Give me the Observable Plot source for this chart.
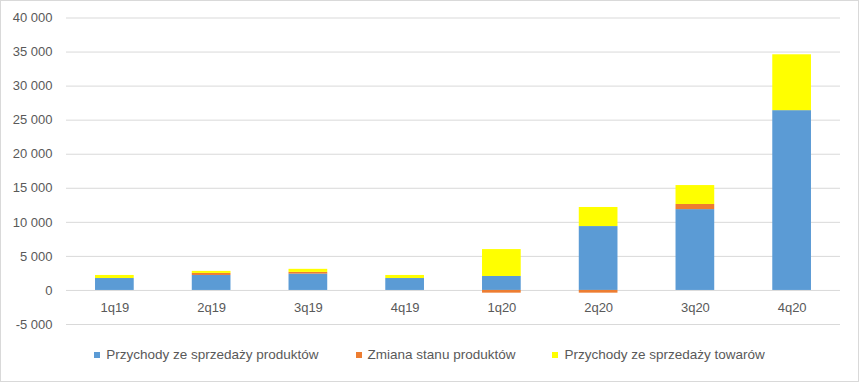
<!DOCTYPE html>
<html>
<head>
<meta charset="utf-8">
<script src="https://cdn.jsdelivr.net/npm/d3@7"></script>
<script src="https://cdn.jsdelivr.net/npm/@observablehq/plot@0.6"></script>
<style>
  body { margin: 0; background: #fff; }
  #chart { position: relative; width: 859px; height: 382px; box-sizing: border-box; border: 1px solid #d9d9d9; background: #fff; font-family: "Liberation Sans", Arial, sans-serif; }
  #chart svg { position: absolute; left: 0; top: 0; }
  #legend { position: absolute; left: 0; right: 0; top: 346px; display: flex; justify-content: center; gap: 37px; font-size: 13.5px; color: #595959; }
  #legend .item { display: flex; align-items: center; }
  #legend .sw { width: 6px; height: 6px; margin-right: 6px; }
</style>
</head>
<body>
<div id="chart"><div id="legend"></div></div>
<script>
const categories = ["1q19", "2q19", "3q19", "4q19", "1q20", "2q20", "3q20", "4q20"];
const seriesNames = ["Przychody ze sprzedaży produktów", "Zmiana stanu produktów", "Przychody ze sprzedaży towarów"];
const produkty = [1750, 2200, 2400, 1750, 2050, 9380, 11870, 26400];
const zmiana   = [0, 300, 250, 0, -400, -400, 750, 0];
const towary   = [450, 300, 450, 450, 3950, 2800, 2780, 8200];
const colors = ["#5B9BD5", "#ED7D31", "#FFFF00"];
const yTicks = [-5000, 0, 5000, 10000, 15000, 20000, 25000, 30000, 35000, 40000];

const seriesValues = [produkty, zmiana, towary];
const data = [];
seriesNames.forEach((s, si) => categories.forEach((c, ci) => data.push({quarter: c, series: s, value: seriesValues[si][ci]})));

const fmt = d => (d < 0 ? "-" : "") + d3.format(",")(Math.abs(d)).replace(/,/g, " ");

const plot = Plot.plot({
  width: 857,
  height: 334,
  marginLeft: 65,
  marginRight: 18,
  marginTop: 16.5,
  marginBottom: 11,
  style: { fontFamily: "Liberation Sans, Arial, sans-serif", fontSize: "13px", color: "#595959", background: "transparent" },
  x: { domain: categories, paddingInner: 0.6, paddingOuter: 0.3, round: false, label: null },
  y: { domain: [-5000, 40000], label: null },
  color: { domain: seriesNames, range: colors },
  marks: [
    Plot.ruleY(yTicks, { stroke: "#d9d9d9", strokeWidth: 1 }),
    Plot.barY(data, { x: "quarter", y: "value", fill: "series", order: seriesNames }),
    Plot.axisY({ ticks: yTicks, tickFormat: fmt, tickSize: 0, tickPadding: 14, fill: "#595959", fontSize: 13 }),
    Plot.axisX({ tickSize: 0, tickPadding: 0, dy: -22, fill: "#595959", fontSize: 13 })
  ]
});
document.getElementById("chart").appendChild(plot);

const legend = document.getElementById("legend");
seriesNames.forEach((s, i) => {
  const item = document.createElement("div");
  item.className = "item";
  item.innerHTML = `<span class="sw" style="background:${colors[i]}"></span><span>${s}</span>`;
  legend.appendChild(item);
});
</script>
</body>
</html>
